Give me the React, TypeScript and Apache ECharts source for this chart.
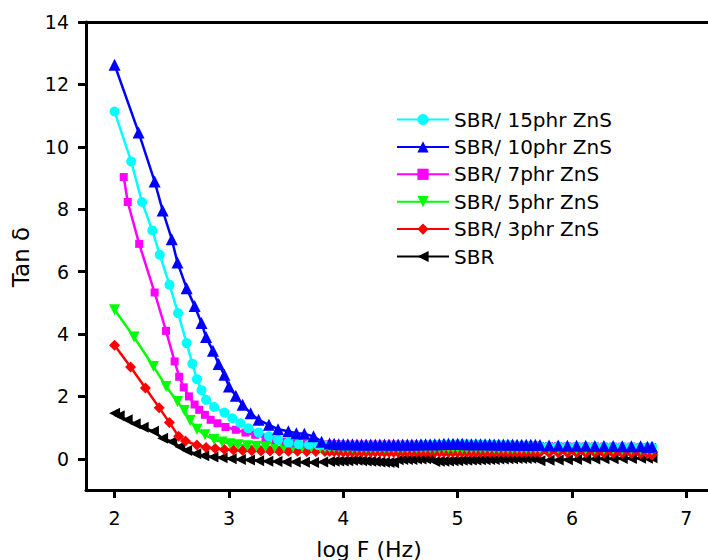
import React, { useEffect, useRef } from "react";
import * as echarts from "echarts";

const xTicks = [2, 3, 4, 5, 6, 7];
const yTicks = [0, 2, 4, 6, 8, 10, 12, 14];

const seriesNames = [
  "SBR/ 15phr ZnS",
  "SBR/ 10phr ZnS",
  "SBR/ 7phr ZnS",
  "SBR/ 5phr ZnS",
  "SBR/ 3phr ZnS",
  "SBR",
];

// low-frequency parts: [log F, tan delta]
const cyanLow = [
  [2.0, 11.13], [2.145, 9.53], [2.24, 8.23], [2.33, 7.32], [2.395, 6.54], [2.48, 5.58],
  [2.555, 4.67], [2.63, 3.71], [2.68, 3.05], [2.72, 2.55], [2.76, 2.2], [2.8, 1.89],
  [2.87, 1.66], [2.96, 1.48], [3.03, 1.3], [3.1, 1.14], [3.17, 0.98], [3.26, 0.84],
  [3.35, 0.72], [3.43, 0.61], [3.52, 0.52], [3.61, 0.47], [3.7, 0.45], [3.78, 0.44], [3.84, 0.43],
];
const blueLow = [
  [2.0, 12.63], [2.21, 10.46], [2.35, 8.89], [2.42, 7.96], [2.5, 7.04], [2.55, 6.29],
  [2.63, 5.47], [2.7, 4.9], [2.76, 4.35], [2.8, 3.9], [2.86, 3.46], [2.91, 3.04],
  [2.96, 2.69], [3.0, 2.32], [3.06, 2.02], [3.12, 1.73], [3.19, 1.46], [3.26, 1.25],
  [3.35, 1.09], [3.43, 0.95], [3.52, 0.88], [3.59, 0.82], [3.66, 0.8], [3.74, 0.72], [3.81, 0.55],
];
const magentaLow = [
  [2.08, 9.03], [2.115, 8.23], [2.215, 6.89], [2.35, 5.33], [2.45, 4.1], [2.525, 3.12],
  [2.565, 2.63], [2.605, 2.29], [2.65, 2.0], [2.7, 1.74], [2.74, 1.57], [2.79, 1.41],
  [2.84, 1.25], [2.9, 1.14], [2.97, 1.02], [3.06, 0.93], [3.145, 0.84], [3.23, 0.77],
  [3.32, 0.68], [3.41, 0.6], [3.5, 0.54], [3.59, 0.5], [3.68, 0.48], [3.77, 0.47], [3.84, 0.46],
];
const greenLow = [
  [2.0, 4.78], [2.17, 3.9], [2.34, 2.96], [2.45, 2.32], [2.55, 1.84], [2.61, 1.55],
  [2.66, 1.23], [2.72, 0.95], [2.79, 0.77], [2.87, 0.62], [2.94, 0.54], [3.01, 0.48],
  [3.08, 0.45], [3.16, 0.42], [3.24, 0.4], [3.32, 0.39], [3.4, 0.38], [3.48, 0.38],
  [3.56, 0.37], [3.64, 0.37], [3.72, 0.37], [3.8, 0.36], [3.84, 0.36],
];
const redLow = [
  [2.0, 3.64], [2.14, 2.94], [2.27, 2.27], [2.39, 1.64], [2.48, 1.16], [2.56, 0.72],
  [2.62, 0.57], [2.72, 0.44], [2.8, 0.36], [2.88, 0.33], [2.96, 0.3], [3.04, 0.28],
  [3.12, 0.27], [3.2, 0.26], [3.28, 0.25], [3.36, 0.25], [3.44, 0.24], [3.52, 0.24],
  [3.6, 0.24], [3.68, 0.23], [3.76, 0.23], [3.84, 0.23],
];
const blackLow = [
  [2.0, 1.46], [2.04, 1.38], [2.11, 1.25], [2.18, 1.12], [2.25, 1.01], [2.34, 0.88],
  [2.42, 0.66], [2.5, 0.55], [2.57, 0.39], [2.63, 0.27], [2.71, 0.16], [2.78, 0.1],
  [2.86, 0.06], [2.94, 0.03], [3.02, 0.0], [3.1, -0.02], [3.18, -0.04], [3.26, -0.06],
  [3.34, -0.08], [3.42, -0.09], [3.5, -0.1], [3.58, -0.1], [3.66, -0.11], [3.74, -0.12], [3.82, -0.1],
];

// high-frequency plateau: shared log F values, per-series tan delta
const flatX = [
  3.88, 3.92, 3.96, 4.0, 4.04, 4.08, 4.12, 4.16, 4.2, 4.24,
  4.28, 4.32, 4.36, 4.4, 4.44, 4.48, 4.52, 4.56, 4.6, 4.64,
  4.68, 4.72, 4.76, 4.8, 4.84, 4.88, 4.92, 4.96, 5.0, 5.04,
  5.08, 5.12, 5.16, 5.2, 5.24, 5.28, 5.32, 5.36, 5.4, 5.44,
  5.48, 5.52, 5.56, 5.6, 5.64, 5.68, 5.72, 5.8, 5.88, 5.96,
  6.04, 6.12, 6.2, 6.28, 6.36, 6.44, 6.52, 6.6, 6.66, 6.7,
];
const blueFlat = [
  0.49, 0.48, 0.47, 0.47, 0.47, 0.47, 0.46, 0.46, 0.46, 0.46,
  0.46, 0.46, 0.46, 0.46, 0.46, 0.46, 0.46, 0.46, 0.46, 0.46,
  0.47, 0.47, 0.47, 0.47, 0.47, 0.48, 0.48, 0.48, 0.48, 0.48,
  0.47, 0.47, 0.47, 0.47, 0.47, 0.47, 0.46, 0.46, 0.46, 0.46,
  0.46, 0.45, 0.45, 0.45, 0.45, 0.45, 0.44, 0.43, 0.43, 0.42,
  0.42, 0.42, 0.41, 0.41, 0.41, 0.4, 0.4, 0.4, 0.39, 0.39,
];
const cyanFlat = [
  0.43, 0.43, 0.43, 0.43, 0.42, 0.42, 0.42, 0.42, 0.42, 0.42,
  0.42, 0.42, 0.42, 0.42, 0.42, 0.43, 0.43, 0.43, 0.43, 0.43,
  0.44, 0.44, 0.44, 0.45, 0.45, 0.46, 0.46, 0.46, 0.47, 0.47,
  0.47, 0.46, 0.46, 0.46, 0.45, 0.45, 0.45, 0.44, 0.44, 0.44,
  0.44, 0.43, 0.43, 0.43, 0.43, 0.42, 0.4, 0.4, 0.4, 0.39,
  0.39, 0.39, 0.39, 0.38, 0.38, 0.38, 0.38, 0.37, 0.37, 0.37,
];
const magentaFlat = [
  0.46, 0.46, 0.46, 0.45, 0.45, 0.45, 0.45, 0.45, 0.45, 0.45,
  0.45, 0.45, 0.45, 0.45, 0.45, 0.45, 0.45, 0.45, 0.45, 0.45,
  0.45, 0.45, 0.45, 0.44, 0.44, 0.44, 0.44, 0.44, 0.44, 0.44,
  0.44, 0.44, 0.44, 0.44, 0.44, 0.44, 0.43, 0.43, 0.43, 0.43,
  0.43, 0.43, 0.43, 0.43, 0.43, 0.43, 0.41, 0.41, 0.41, 0.4,
  0.4, 0.4, 0.4, 0.39, 0.39, 0.39, 0.39, 0.38, 0.38, 0.38,
];
const greenFlat = [
  0.36, 0.36, 0.36, 0.35, 0.35, 0.35, 0.35, 0.35, 0.35, 0.35,
  0.35, 0.35, 0.35, 0.35, 0.35, 0.35, 0.35, 0.35, 0.35, 0.35,
  0.35, 0.35, 0.35, 0.34, 0.34, 0.34, 0.34, 0.34, 0.34, 0.34,
  0.34, 0.34, 0.34, 0.34, 0.34, 0.34, 0.33, 0.33, 0.33, 0.33,
  0.33, 0.33, 0.33, 0.33, 0.33, 0.33, 0.32, 0.32, 0.32, 0.32,
  0.31, 0.31, 0.31, 0.31, 0.31, 0.3, 0.3, 0.3, 0.3, 0.28,
];
const redFlat = [
  0.23, 0.23, 0.23, 0.22, 0.22, 0.22, 0.22, 0.22, 0.22, 0.22,
  0.22, 0.22, 0.21, 0.21, 0.21, 0.21, 0.22, 0.22, 0.22, 0.22,
  0.22, 0.22, 0.22, 0.21, 0.21, 0.21, 0.21, 0.21, 0.21, 0.21,
  0.21, 0.21, 0.21, 0.21, 0.21, 0.21, 0.21, 0.21, 0.21, 0.21,
  0.21, 0.21, 0.21, 0.21, 0.21, 0.21, 0.2, 0.19, 0.19, 0.19,
  0.19, 0.19, 0.19, 0.18, 0.18, 0.18, 0.18, 0.17, 0.16, 0.12,
];
const blackFlat = [
  -0.09, -0.08, -0.07, -0.07, -0.06, -0.05, -0.05, -0.06, -0.07, -0.08,
  -0.09, -0.1, -0.11, -0.12, -0.13, -0.03, -0.02, -0.02, -0.02, -0.01,
  -0.01, 0.0, 0.0, -0.09, -0.08, -0.08, -0.07, -0.06, -0.06, -0.05,
  -0.05, -0.04, -0.04, -0.03, -0.03, -0.02, -0.02, -0.01, -0.01, 0.0,
  0.0, 0.01, 0.01, 0.01, 0.02, 0.02, -0.06, -0.05, -0.04, -0.03,
  -0.02, -0.01, -0.01, 0.0, 0.0, 0.01, 0.01, 0.02, 0.02, 0.03,
];

const FONT = "'DejaVu Sans', sans-serif";

function join(low: number[][], flat: number[]) {
  return low.concat(flatX.map((x, i) => [x, flat[i]]));
}

export default function App() {
  const ref = useRef<HTMLDivElement>(null);
  useEffect(() => {
    const chart = echarts.init(ref.current!, null, { renderer: "svg" });
    const mk = (
      name: string,
      color: string,
      data: number[][],
      symbol: string,
      size: number,
      rotate = 0
    ) => ({
      name,
      type: "line",
      data,
      symbol,
      symbolSize: size,
      symbolRotate: rotate,
      showAllSymbol: true,
      lineStyle: { color, width: 2.5 },
      itemStyle: { color },
      emphasis: { disabled: true },
    });
    const axisLine = { onZero: false, lineStyle: { color: "#000", width: 3 } };
    chart.setOption({
      animation: false,
      backgroundColor: "#ffffff",
      textStyle: { fontFamily: FONT },
      grid: { left: 86, top: 22, right: 0, bottom: 70 },
      xAxis: [
        {
          type: "value",
          min: 1.75,
          max: 7.19,
          splitLine: { show: false },
          axisLine,
          axisTick: { customValues: xTicks, length: 8, lineStyle: { color: "#000", width: 3 } },
          axisLabel: { customValues: xTicks, fontSize: 19, color: "#000", margin: 18, fontFamily: FONT },
        },
        {
          type: "value",
          position: "top",
          min: 1.75,
          max: 7.19,
          splitLine: { show: false },
          axisLine,
          axisTick: { show: false },
          axisLabel: { show: false },
        },
      ],
      yAxis: {
        type: "value",
        min: -1,
        max: 14,
        splitLine: { show: false },
        axisLine,
        axisTick: { customValues: yTicks, length: 8, lineStyle: { color: "#000", width: 3 } },
        axisLabel: { customValues: yTicks, fontSize: 19, color: "#000", margin: 17, fontFamily: FONT },
      },
      legend: {
        orient: "vertical",
        left: 391,
        top: 104,
        itemWidth: 52,
        itemHeight: 14,
        itemGap: 6.4,
        data: seriesNames,
        textStyle: { fontSize: 20, lineHeight: 21, color: "#000", fontFamily: FONT },
      },
      graphic: [
        {
          type: "text",
          x: 21,
          y: 257,
          rotation: Math.PI / 2,
          style: {
            text: "Tan δ",
            fontSize: 23,
            fontFamily: FONT,
            fill: "#000",
            align: "center",
            verticalAlign: "middle",
          },
        },
        {
          type: "text",
          x: 369,
          y: 549,
          style: {
            text: "log F (Hz)",
            fontSize: 22,
            fontFamily: FONT,
            fill: "#000",
            align: "center",
            verticalAlign: "middle",
          },
        },
      ],
      series: [
        mk(seriesNames[5], "#000000", join(blackLow, blackFlat), "triangle", 11, 90),
        mk(seriesNames[4], "#ff0000", join(redLow, redFlat), "diamond", 11),
        mk(seriesNames[3], "#00ff00", join(greenLow, greenFlat), "triangle", 11, 180),
        mk(seriesNames[2], "#ff00ff", join(magentaLow, magentaFlat), "rect", 8),
        mk(seriesNames[0], "#00ffff", join(cyanLow, cyanFlat), "circle", 10),
        mk(seriesNames[1], "#0000ff", join(blueLow, blueFlat), "triangle", 12),
      ],
    });
    return () => chart.dispose();
  }, []);
  return (
    <div
      ref={ref}
      style={{ position: "fixed", left: 0, top: 0, width: 708, height: 560 }}
    />
  );
}
